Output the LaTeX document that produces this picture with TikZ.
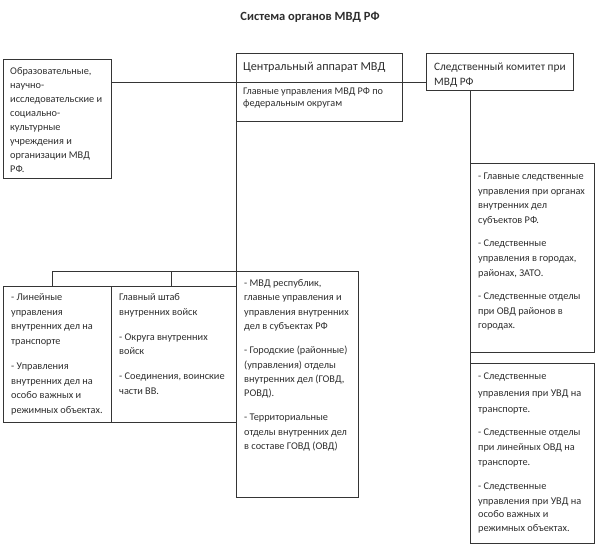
\documentclass[tikz,border=0pt]{standalone}
\usepackage{fontspec}
\setmainfont{Carlito}
\definecolor{linec}{HTML}{353535}
\definecolor{textc}{HTML}{2E2E2E}
\newcommand\mystrut{\rule{0pt}{0.78em}}
\begin{document}
\begin{tikzpicture}[x=1pt,y=-1pt,
  box/.style={draw=linec, line width=0.95pt, inner sep=0pt, anchor=north west},
  txt/.style={inner sep=0pt, anchor=north west, align=left, text=textc},
  body/.style={txt, font=\fontsize{10.3}{#1}\selectfont},
  conn/.style={draw=linec, line width=0.95pt}]
\useasboundingbox (0,0) rectangle (600,546);

% title
\node[text=textc, font=\bfseries\fontsize{12.5}{15}\selectfont] (title) at (310,17) {Система органов МВД РФ};

% boxes
\node[box, minimum width=108pt, minimum height=119pt] (edu) at (3,59) {};
\node[box, minimum width=166pt, minimum height=68pt] (central) at (236,53) {};
\node[box, minimum width=147pt, minimum height=37pt] (sk) at (426,53) {};
\node[box, minimum width=124pt, minimum height=189pt] (rb1) at (470,163) {};
\node[box, minimum width=124pt, minimum height=180pt] (rb2) at (470,363) {};
\node[box, minimum width=108pt, minimum height=136pt] (lin) at (3,286) {};
\node[box, minimum width=125pt, minimum height=136pt] (shtab) at (111,286) {};
\node[box, minimum width=122pt, minimum height=226pt] (mvd) at (236,271) {};

% connectors
\coordinate (hl) at (0,82);
\coordinate (bA) at (52,271);
\coordinate (bB) at (171,271);
\draw[conn] (edu.east |- hl) -- (central.west |- hl);
\draw[conn] (central.west |- hl) -- (central.east |- hl);
\draw[conn] (central.east |- hl) -- (sk.west |- hl);
\draw[conn] (central.south west) -- (mvd.north west);
\draw[conn] (mvd.north west) -- (bA);
\draw[conn] (bA) -- (lin.north -| bA);
\draw[conn] (bB) -- (shtab.north -| bB);
\draw[conn] (sk.south -| rb1.north west) -- (rb1.north west);
\draw[conn] (rb1.south west) -- (rb2.north west);

% texts
\node[body=14] (eduT) at (10,66.3) {\mystrut Образовательные,\\научно-\\исследовательские и\\социально-\\культурные\\учреждения и\\организации МВД\\РФ.};

\node[txt, anchor=base west, font=\fontsize{12.2}{14}\selectfont] (centralT) at (243,70.8) {Центральный аппарат МВД};
\node[txt, font=\fontsize{10.2}{12}\selectfont] (centralS) at (243,86.3) {\mystrut Главные управления МВД РФ по\\федеральным округам};

\node[txt, font=\fontsize{11.3}{15}\selectfont] (skT) at (434,61.8) {\mystrut Следственный комитет при\\МВД РФ};

\node[body=14.5] (linT) at (11,292.3) {\mystrut - Линейные\\управления\\внутренних дел на\\транспорте\\[11pt]- Управления\\внутренних дел на\\особо важных и\\режимных объектах.};

\node[body=14.8] (shtabT) at (119,292.3) {\mystrut Главный штаб\\внутренних войск\\[10pt]- Округа внутренних\\войск\\[10pt]- Соединения, воинские\\части ВВ.};

\node[body=14.4] (mvdT) at (244,278.3) {\mystrut - МВД республик,\\главные управления и\\управления внутренних\\дел в субъектах РФ\\[9.6pt]- Городские (районные)\\(управления) отделы\\внутренних дел (ГОВД,\\РОВД).\\[9.6pt]- Территориальные\\отделы внутренних дел\\в составе ГОВД (ОВД)};

\node[body=14.6] (rb1T) at (478,171.3) {\mystrut - Главные следственные\\управления при органах\\внутренних дел\\субъектов РФ.\\[9pt]- Следственные\\управления в городах,\\районах, ЗАТО.\\[9pt]- Следственные отделы\\при ОВД районов в\\городах.};

\node[body=15] (rb2T) at (478,371.3) {\mystrut - Следственные\\[2pt]управления при УВД на\\[1pt]транспорте.\\[8pt]- Следственные отделы\\при линейных ОВД на\\транспорте.\\[9pt]- Следственные\\управления при УВД на\\[-2pt]особо важных и\\[-1pt]режимных объектах.};
\end{tikzpicture}
\end{document}
